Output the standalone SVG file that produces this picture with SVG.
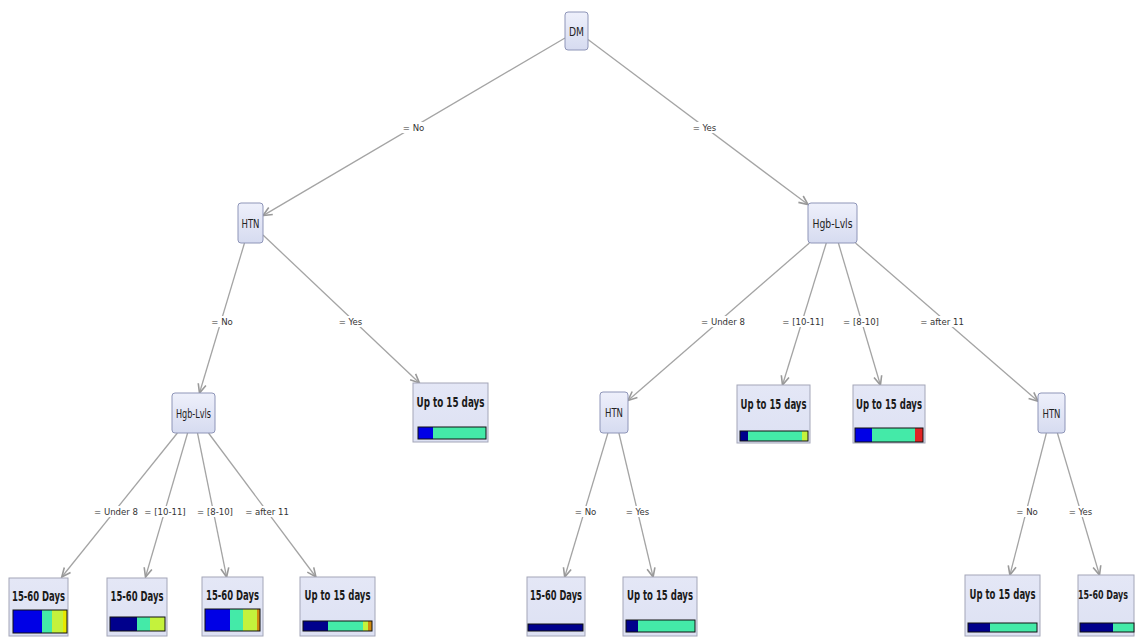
<svg xmlns="http://www.w3.org/2000/svg" width="1135" height="637" viewBox="0 0 1135 637">
<style>
.bg{fill:#ffffff}
.node rect.box{fill:url(#ng);stroke:#8e95b8;stroke-width:1}
.leaf rect.box{fill:url(#lg);stroke:#a3a6b8;stroke-width:1}
.nt{font-family:"Liberation Sans Narrow","DejaVu Sans Condensed","Liberation Sans",sans-serif;font-size:12.5px;fill:#222;text-anchor:middle}
.lt{font-family:"Liberation Sans Narrow","DejaVu Sans Condensed","Liberation Sans",sans-serif;font-size:14px;font-weight:bold;fill:#1a1a1a;text-anchor:middle}
.el{font-family:"Liberation Sans Narrow","DejaVu Sans Condensed","Liberation Sans",sans-serif;font-size:9.5px;fill:#333;text-anchor:middle}
.edge{stroke:#a4a4a4;stroke-width:1.3;fill:none;marker-end:url(#arr)}
.lb{fill:#ffffff}
.bar{fill:none;stroke:#111;stroke-width:1}
.b1{fill:#0000e6}.b2{fill:#00008c}.aq{fill:#44eaa8}.yg{fill:#c4f23c}.ye{fill:#e8e800}.rd{fill:#e02424}.or{fill:#d08a10}
</style>
<defs>
<linearGradient id="ng" x1="0" y1="0" x2="0" y2="1"><stop offset="0" stop-color="#eef0fb"/><stop offset="1" stop-color="#d6dbf0"/></linearGradient>
<linearGradient id="lg" x1="0" y1="0" x2="0" y2="1"><stop offset="0" stop-color="#e4e7f6"/><stop offset="1" stop-color="#dde1f3"/></linearGradient>
<marker id="arr" markerUnits="userSpaceOnUse" markerWidth="12" markerHeight="12" refX="10" refY="5" orient="auto"><path d="M1,1 L10,5 L1,9" fill="none" stroke="#999" stroke-width="1.6"/></marker>
</defs>
<rect class="bg" x="0" y="0" width="1135" height="637"/>
<g id="connectors">
<line class="edge" x1="565" y1="38" x2="263" y2="215.6"/>
<line class="edge" x1="588" y1="39.6" x2="808" y2="204.6"/>
<line class="edge" x1="244.5" y1="243" x2="199.5" y2="393"/>
<line class="edge" x1="263" y1="235" x2="419.4" y2="383"/>
<line class="edge" x1="809.4" y1="243" x2="628" y2="400.4"/>
<line class="edge" x1="826.3" y1="243" x2="782.5" y2="385"/>
<line class="edge" x1="838.4" y1="243" x2="880.4" y2="385"/>
<line class="edge" x1="855.5" y1="243" x2="1038" y2="401.3"/>
<line class="edge" x1="177.4" y1="433" x2="61.8" y2="577"/>
<line class="edge" x1="187.6" y1="433" x2="145.5" y2="577"/>
<line class="edge" x1="197.5" y1="433" x2="226.6" y2="577"/>
<line class="edge" x1="208.5" y1="433" x2="315.9" y2="577"/>
<line class="edge" x1="607.9" y1="433" x2="564.7" y2="577"/>
<line class="edge" x1="618.9" y1="433" x2="653.1" y2="577"/>
<line class="edge" x1="1046.4" y1="433" x2="1009.9" y2="575"/>
<line class="edge" x1="1057.4" y1="433" x2="1099.5" y2="575"/>
<g id="edge-labels">
<rect class="lb" x="402" y="122" width="23" height="11"/><text class="el" x="413.5" y="130.5">= No</text>
<rect class="lb" x="692" y="122" width="25" height="11"/><text class="el" x="704.5" y="130.5">= Yes</text>
<rect class="lb" x="210" y="316" width="24" height="11"/><text class="el" x="222" y="324.5">= No</text>
<rect class="lb" x="338" y="316" width="25" height="11"/><text class="el" x="350.5" y="324.5">= Yes</text>
<rect class="lb" x="702" y="316" width="42" height="11"/><text class="el" x="723" y="324.5">= Under 8</text>
<rect class="lb" x="785" y="316" width="36" height="11"/><text class="el" x="803" y="324.5">= [10-11]</text>
<rect class="lb" x="845" y="316" width="32" height="11"/><text class="el" x="861" y="324.5">= [8-10]</text>
<rect class="lb" x="922" y="316" width="40" height="11"/><text class="el" x="942" y="324.5">= after 11</text>
<rect class="lb" x="95" y="506" width="42" height="11"/><text class="el" x="116" y="514.5">= Under 8</text>
<rect class="lb" x="147" y="506" width="36" height="11"/><text class="el" x="165" y="514.5">= [10-11]</text>
<rect class="lb" x="199" y="506" width="32" height="11"/><text class="el" x="215" y="514.5">= [8-10]</text>
<rect class="lb" x="247" y="506" width="40" height="11"/><text class="el" x="267" y="514.5">= after 11</text>
<rect class="lb" x="574" y="506" width="23" height="11"/><text class="el" x="585.5" y="514.5">= No</text>
<rect class="lb" x="625" y="506" width="25" height="11"/><text class="el" x="637.5" y="514.5">= Yes</text>
<rect class="lb" x="1015" y="506" width="24" height="11"/><text class="el" x="1027" y="514.5">= No</text>
<rect class="lb" x="1068" y="506" width="25" height="11"/><text class="el" x="1080.5" y="514.5">= Yes</text>
</g>
</g>
<g id="n-dm" class="node"><rect class="box" x="565" y="12" width="23" height="38" rx="3"/><text class="nt" x="576.5" y="35.5" textLength="15" lengthAdjust="spacingAndGlyphs">DM</text></g>
<g id="n-htn1" class="node"><rect class="box" x="238" y="203" width="25" height="40" rx="3"/><text class="nt" x="250.5" y="227.5" textLength="18" lengthAdjust="spacingAndGlyphs">HTN</text></g>
<g id="n-hgb1" class="node"><rect class="box" x="808" y="203" width="49" height="40" rx="3"/><text class="nt" x="832.5" y="227.5" textLength="40" lengthAdjust="spacingAndGlyphs">Hgb-Lvls</text></g>
<g id="n-hgb2" class="node"><rect class="box" x="172" y="393" width="43" height="40" rx="3"/><text class="nt" x="193.5" y="417.5" textLength="35" lengthAdjust="spacingAndGlyphs">Hgb-Lvls</text></g>
<g id="n-htn2" class="node"><rect class="box" x="600" y="392" width="28" height="41" rx="3"/><text class="nt" x="614" y="417" textLength="18" lengthAdjust="spacingAndGlyphs">HTN</text></g>
<g id="n-htn3" class="node"><rect class="box" x="1038" y="393" width="27" height="40" rx="3"/><text class="nt" x="1051.5" y="417.5" textLength="18" lengthAdjust="spacingAndGlyphs">HTN</text></g>
<g id="leaf-upL" class="leaf"><rect class="box" x="413" y="383" width="75" height="59"/><text class="lt" x="450.5" y="407" textLength="68" lengthAdjust="spacingAndGlyphs">Up to 15 days</text>
<rect class="b1" x="418" y="427" width="15" height="12"/><rect class="aq" x="433" y="427" width="53" height="12"/><rect class="bar" x="418" y="427" width="68" height="12"/></g>
<g id="leaf-upM" class="leaf"><rect class="box" x="737" y="385" width="73" height="58"/><text class="lt" x="773.5" y="409" textLength="66" lengthAdjust="spacingAndGlyphs">Up to 15 days</text>
<rect class="b2" x="740" y="431" width="8" height="10"/><rect class="aq" x="748" y="431" width="54" height="10"/><rect class="yg" x="802" y="431" width="6" height="10"/><rect class="bar" x="740" y="431" width="68" height="10"/></g>
<g id="leaf-upR" class="leaf"><rect class="box" x="853" y="385" width="72" height="58"/><text class="lt" x="889" y="409" textLength="66" lengthAdjust="spacingAndGlyphs">Up to 15 days</text>
<rect class="b1" x="855" y="428" width="17" height="14"/><rect class="aq" x="872" y="428" width="43" height="14"/><rect class="rd" x="915" y="428" width="8" height="14"/><rect class="bar" x="855" y="428" width="68" height="14"/></g>
<g id="leaf-1" class="leaf"><rect class="box" x="9" y="578" width="59" height="58"/><text class="lt" x="38.5" y="601" textLength="53" lengthAdjust="spacingAndGlyphs">15-60 Days</text>
<rect class="b1" x="13" y="610" width="29" height="23"/><rect class="aq" x="42" y="610" width="10" height="23"/><rect class="yg" x="52" y="610" width="11" height="23"/><rect class="ye" x="63" y="610" width="4" height="23"/><rect class="bar" x="13" y="610" width="54" height="23"/></g>
<g id="leaf-2" class="leaf"><rect class="box" x="107" y="578" width="60" height="58"/><text class="lt" x="137" y="601" textLength="53" lengthAdjust="spacingAndGlyphs">15-60 Days</text>
<rect class="b2" x="110" y="617" width="27" height="14"/><rect class="aq" x="137" y="617" width="13" height="14"/><rect class="yg" x="150" y="617" width="15" height="14"/><rect class="bar" x="110" y="617" width="55" height="14"/></g>
<g id="leaf-3" class="leaf"><rect class="box" x="202" y="577" width="61" height="59"/><text class="lt" x="232.5" y="600" textLength="53" lengthAdjust="spacingAndGlyphs">15-60 Days</text>
<rect class="b1" x="205" y="609" width="25" height="22"/><rect class="aq" x="230" y="609" width="13" height="22"/><rect class="yg" x="243" y="609" width="14" height="22"/><rect class="or" x="257" y="609" width="3" height="22"/><rect class="bar" x="205" y="609" width="55" height="22"/></g>
<g id="leaf-4" class="leaf"><rect class="box" x="300" y="577" width="75" height="59"/><text class="lt" x="337.5" y="600" textLength="66" lengthAdjust="spacingAndGlyphs">Up to 15 days</text>
<rect class="b2" x="303" y="621" width="25" height="10"/><rect class="aq" x="328" y="621" width="35" height="10"/><rect class="yg" x="363" y="621" width="5" height="10"/><rect class="or" x="368" y="621" width="4" height="10"/><rect class="bar" x="303" y="621" width="69" height="10"/></g>
<g id="leaf-5" class="leaf"><rect class="box" x="527" y="577" width="58" height="59"/><text class="lt" x="556" y="600" textLength="52" lengthAdjust="spacingAndGlyphs">15-60 Days</text>
<rect class="b2" x="528" y="624" width="55" height="7"/><rect class="bar" x="528" y="624" width="55" height="7"/></g>
<g id="leaf-6" class="leaf"><rect class="box" x="623" y="577" width="74" height="59"/><text class="lt" x="660" y="600" textLength="66" lengthAdjust="spacingAndGlyphs">Up to 15 days</text>
<rect class="b2" x="626" y="620" width="12" height="12"/><rect class="aq" x="638" y="620" width="57" height="12"/><rect class="bar" x="626" y="620" width="69" height="12"/></g>
<g id="leaf-7" class="leaf"><rect class="box" x="965" y="575" width="75" height="61"/><text class="lt" x="1002.5" y="599" textLength="66" lengthAdjust="spacingAndGlyphs">Up to 15 days</text>
<rect class="b2" x="968" y="623" width="22" height="9"/><rect class="aq" x="990" y="623" width="47" height="9"/><rect class="bar" x="968" y="623" width="69" height="9"/></g>
<g id="leaf-8" class="leaf"><rect class="box" x="1078" y="575" width="56" height="61"/><text x="1103" y="599" style="font-family:'Liberation Sans Narrow','DejaVu Sans Condensed','Liberation Sans',sans-serif;font-size:13px;font-weight:bold;fill:#1a1a1a;text-anchor:middle" textLength="50" lengthAdjust="spacingAndGlyphs">15-60 Days</text>
<rect class="b2" x="1080" y="623" width="33" height="9"/><rect class="aq" x="1113" y="623" width="21" height="9"/><rect class="bar" x="1080" y="623" width="54" height="9"/></g>
</svg>
